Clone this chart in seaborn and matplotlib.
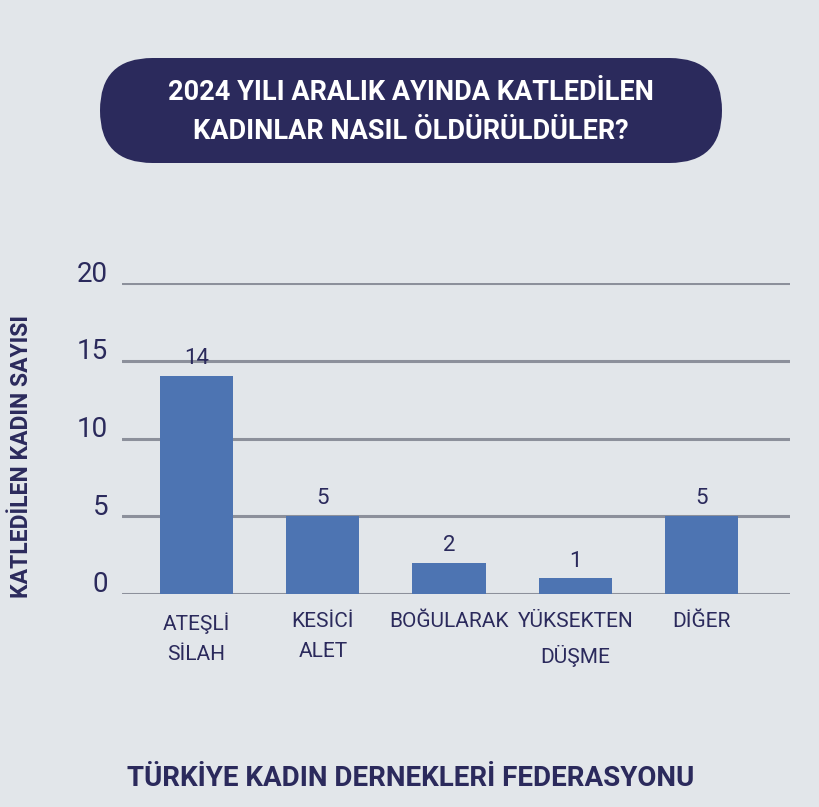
import matplotlib
matplotlib.use('Agg')
import matplotlib.pyplot as plt
from matplotlib.patches import FancyBboxPatch
from matplotlib.transforms import offset_copy
import pandas as pd
import seaborn as sns

# chart data
categories = ['ATEŞLİ\nSİLAH', 'KESİCİ\nALET', 'BOĞULARAK', 'YÜKSEKTEN\nDÜŞME', 'DİĞER']
counts = [14, 5, 2, 1, 5]
yticks = [0, 5, 10, 15, 20]

title = '2024 YILI ARALIK AYINDA KATLEDİLEN\nKADINLAR NASIL ÖLDÜRÜLDÜLER?'
ylabel = 'KATLEDİLEN KADIN SAYISI'
footer = 'TÜRKİYE KADIN DERNEKLERİ FEDERASYONU'

BG = '#e2e6ea'
NAVY = '#2b2a5c'
BAR = '#4d74b2'
GRID = '#8c909b'

sns.set_theme(style='white')
plt.rcParams['font.family'] = ['Roboto', 'DejaVu Sans']

df = pd.DataFrame({'cat': categories, 'n': counts})

fig = plt.figure(figsize=(8.2, 8.07), dpi=100)
fig.patch.set_facecolor(BG)

# background layer in pixel coords for the title pill
bg = fig.add_axes([0, 0, 1, 1], zorder=0)
bg.set_xlim(0, 820)
bg.set_ylim(807, 0)
bg.axis('off')
bg.add_patch(FancyBboxPatch((100, 58), 622, 105,
                            boxstyle='round,pad=0,rounding_size=52.5',
                            fc=NAVY, ec='none'))
bg.text(411, 112, title, color='white', fontsize=19.5, fontweight='bold',
        ha='center', va='center', linespacing=1.55)
bg.text(411, 778, footer, color=NAVY, fontsize=20, fontweight='bold',
        ha='center', va='center')

ax = fig.add_axes([122 / 820, 1 - 594 / 807, 668 / 820, 311 / 807], zorder=1)
ax.patch.set_alpha(0)
sns.barplot(data=df, x='cat', y='n', color=BAR, saturation=1, width=0.58,
            linewidth=0, ax=ax, zorder=3)
ax.bar_label(ax.containers[0], color=NAVY, fontsize=16, padding=5)

ax.set_ylim(0, 20)
ax.set_xlim(-0.59, 4.7)
ax.set_yticks(yticks)
for y in yticks:
    ax.axhline(y, color=GRID, lw=2.2, zorder=1)
sns.despine(ax=ax, left=True, bottom=True)

ax.tick_params(axis='y', length=0, pad=10, labelsize=20, labelcolor=NAVY)
ax.tick_params(axis='x', length=0, pad=13, labelsize=15, labelcolor=NAVY)
for lab in ax.get_yticklabels():
    lab.set_transform(offset_copy(lab.get_transform(), fig=fig, y=12, units='dots'))
for lab in ax.get_xticklabels():
    lab.set_linespacing(1.75)
    lab.set_verticalalignment('top')

ax.set_xlabel('')
ax.set_ylabel('')
fig.text(22 / 820, 1 - 456 / 807, ylabel, rotation=90, color=NAVY,
         fontsize=16.5, fontweight='bold', ha='center', va='center')

fig.savefig('out.png', dpi=100, facecolor=BG)
